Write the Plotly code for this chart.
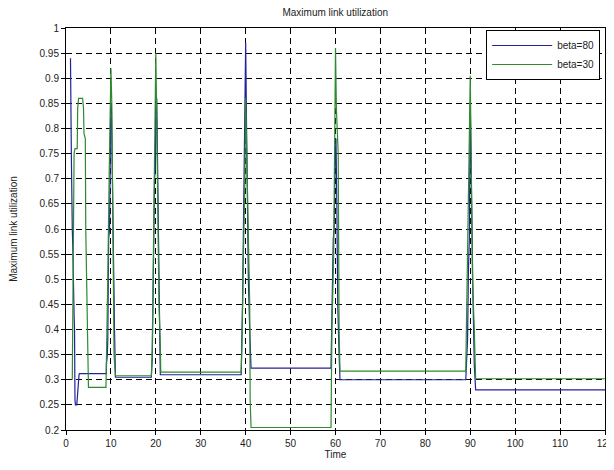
import plotly.graph_objects as go

# beta=80 series (time, utilization)
beta80_t = [1.0, 1.1, 1.2, 1.4, 1.5, 1.8, 1.9, 2.0, 2.1, 2.4, 2.6, 2.9, 3.0, 9.0, 9.0, 9.2, 9.3, 9.5, 9.7, 9.8, 9.9, 10.0, 10.1, 10.3, 10.5, 10.8, 11.0, 11.0, 19.0, 19.2, 19.5, 19.7, 19.9, 20.0, 20.2, 20.4, 20.6, 20.9, 21.0, 39.0, 39.3, 39.5, 39.7, 39.9, 40.0, 40.2, 40.4, 40.6, 40.9, 41.2, 59.0, 59.1, 59.3, 59.5, 59.7, 59.9, 60.1, 60.3, 60.5, 60.8, 61.0, 89.0, 89.2, 89.4, 89.6, 89.8, 90.0, 90.2, 90.4, 90.6, 90.9, 91.2, 120.0]
beta80_v = [0.94, 0.77, 0.74, 0.60, 0.57, 0.43, 0.40, 0.26, 0.25, 0.25, 0.28, 0.31, 0.312, 0.312, 0.33, 0.35, 0.38, 0.58, 0.60, 0.78, 0.80, 0.83, 0.85, 0.72, 0.55, 0.40, 0.31, 0.305, 0.305, 0.34, 0.55, 0.70, 0.72, 0.85, 0.86, 0.68, 0.50, 0.37, 0.31, 0.31, 0.45, 0.58, 0.68, 0.85, 0.97, 0.80, 0.62, 0.50, 0.40, 0.323, 0.323, 0.43, 0.48, 0.58, 0.60, 0.73, 0.78, 0.65, 0.45, 0.35, 0.30, 0.30, 0.35, 0.38, 0.52, 0.58, 0.85, 0.70, 0.62, 0.47, 0.33, 0.28, 0.28]

# beta=30 series
beta30_t = [1.4, 1.5, 1.6, 1.8, 2.0, 2.5, 2.6, 2.8, 3.7, 3.9, 4.0, 4.3, 4.4, 4.6, 4.8, 5.0, 8.9, 9.0, 9.3, 9.6, 9.8, 10.0, 10.2, 10.3, 10.5, 10.7, 11.0, 19.0, 19.2, 19.4, 19.7, 19.9, 20.0, 20.2, 20.4, 20.7, 21.0, 21.1, 39.0, 39.2, 39.5, 39.8, 40.0, 40.3, 40.6, 40.9, 41.0, 41.2, 59.0, 59.2, 59.6, 59.9, 60.0, 60.2, 60.6, 60.8, 61.0, 89.0, 89.3, 89.7, 89.9, 90.0, 90.2, 90.5, 90.9, 91.2, 120.0]
beta30_v = [0.30, 0.45, 0.70, 0.75, 0.76, 0.76, 0.84, 0.86, 0.86, 0.84, 0.79, 0.78, 0.60, 0.50, 0.36, 0.285, 0.285, 0.33, 0.50, 0.70, 0.86, 0.92, 0.85, 0.72, 0.50, 0.35, 0.308, 0.308, 0.36, 0.50, 0.72, 0.86, 0.95, 0.82, 0.62, 0.45, 0.37, 0.315, 0.315, 0.38, 0.55, 0.68, 0.86, 0.72, 0.55, 0.45, 0.26, 0.205, 0.205, 0.40, 0.55, 0.84, 0.96, 0.84, 0.75, 0.40, 0.317, 0.317, 0.50, 0.75, 0.85, 0.905, 0.75, 0.50, 0.40, 0.302, 0.302]

x_ticks = list(range(0, 121, 10))
y_ticks = [round(0.2 + 0.05 * i, 2) for i in range(17)]
y_tick_labels = ["0.2", "0.25", "0.3", "0.35", "0.4", "0.45", "0.5", "0.55", "0.6", "0.65", "0.7", "0.75", "0.8", "0.85", "0.9", "0.95", "1"]

FONT = "Liberation Sans, Arial"

fig = go.Figure()
fig.add_trace(go.Scatter(x=beta80_t, y=beta80_v, mode="lines", name="beta=80",
                         line=dict(color="#22229a", width=1.2)))
fig.add_trace(go.Scatter(x=beta30_t, y=beta30_v, mode="lines", name="beta=30",
                         line=dict(color="#2e8a2e", width=1.2)))

axis_common = dict(showline=True, linecolor="black", linewidth=1, mirror=True,
                   showgrid=True, gridcolor="black", griddash="6px,4px", gridwidth=1,
                   zeroline=False, ticks="outside", ticklen=4, tickcolor="black",
                   automargin=False,
                   tickfont=dict(family=FONT, size=10, color="#222"))

L, R, T, B = 57.5, 17, 20, 48
fig.update_layout(
    width=614, height=470,
    margin=dict(l=L, r=R, t=T, b=B),
    paper_bgcolor="white", plot_bgcolor="white",
    title=dict(text="Maximum link utilization", x=(L + 614 - R) / 2 / 614, xanchor="center", xref="container",
               y=1 - 4.5 / 470, yanchor="middle", yref="container", automargin=False,
               font=dict(family=FONT, size=10, color="#222")),
    xaxis=dict(range=[0, 120], tickvals=x_ticks, title=dict(text="Time", standoff=0,
               font=dict(family=FONT, size=10, color="#222")), **axis_common),
    yaxis=dict(range=[0.2, 1.0], tickvals=y_ticks, ticktext=y_tick_labels,
               title=dict(text="Maximum link utilization", standoff=29,
                          font=dict(family=FONT, size=10, color="#222")),
               **axis_common),
    legend=dict(x=0.991, y=0.995, xanchor="right", yanchor="top",
                bgcolor="white", bordercolor="black", borderwidth=1,
                font=dict(family=FONT, size=10, color="#222"),
                tracegroupgap=0, itemwidth=60),
    showlegend=True,
)

fig.write_html("out.html")
